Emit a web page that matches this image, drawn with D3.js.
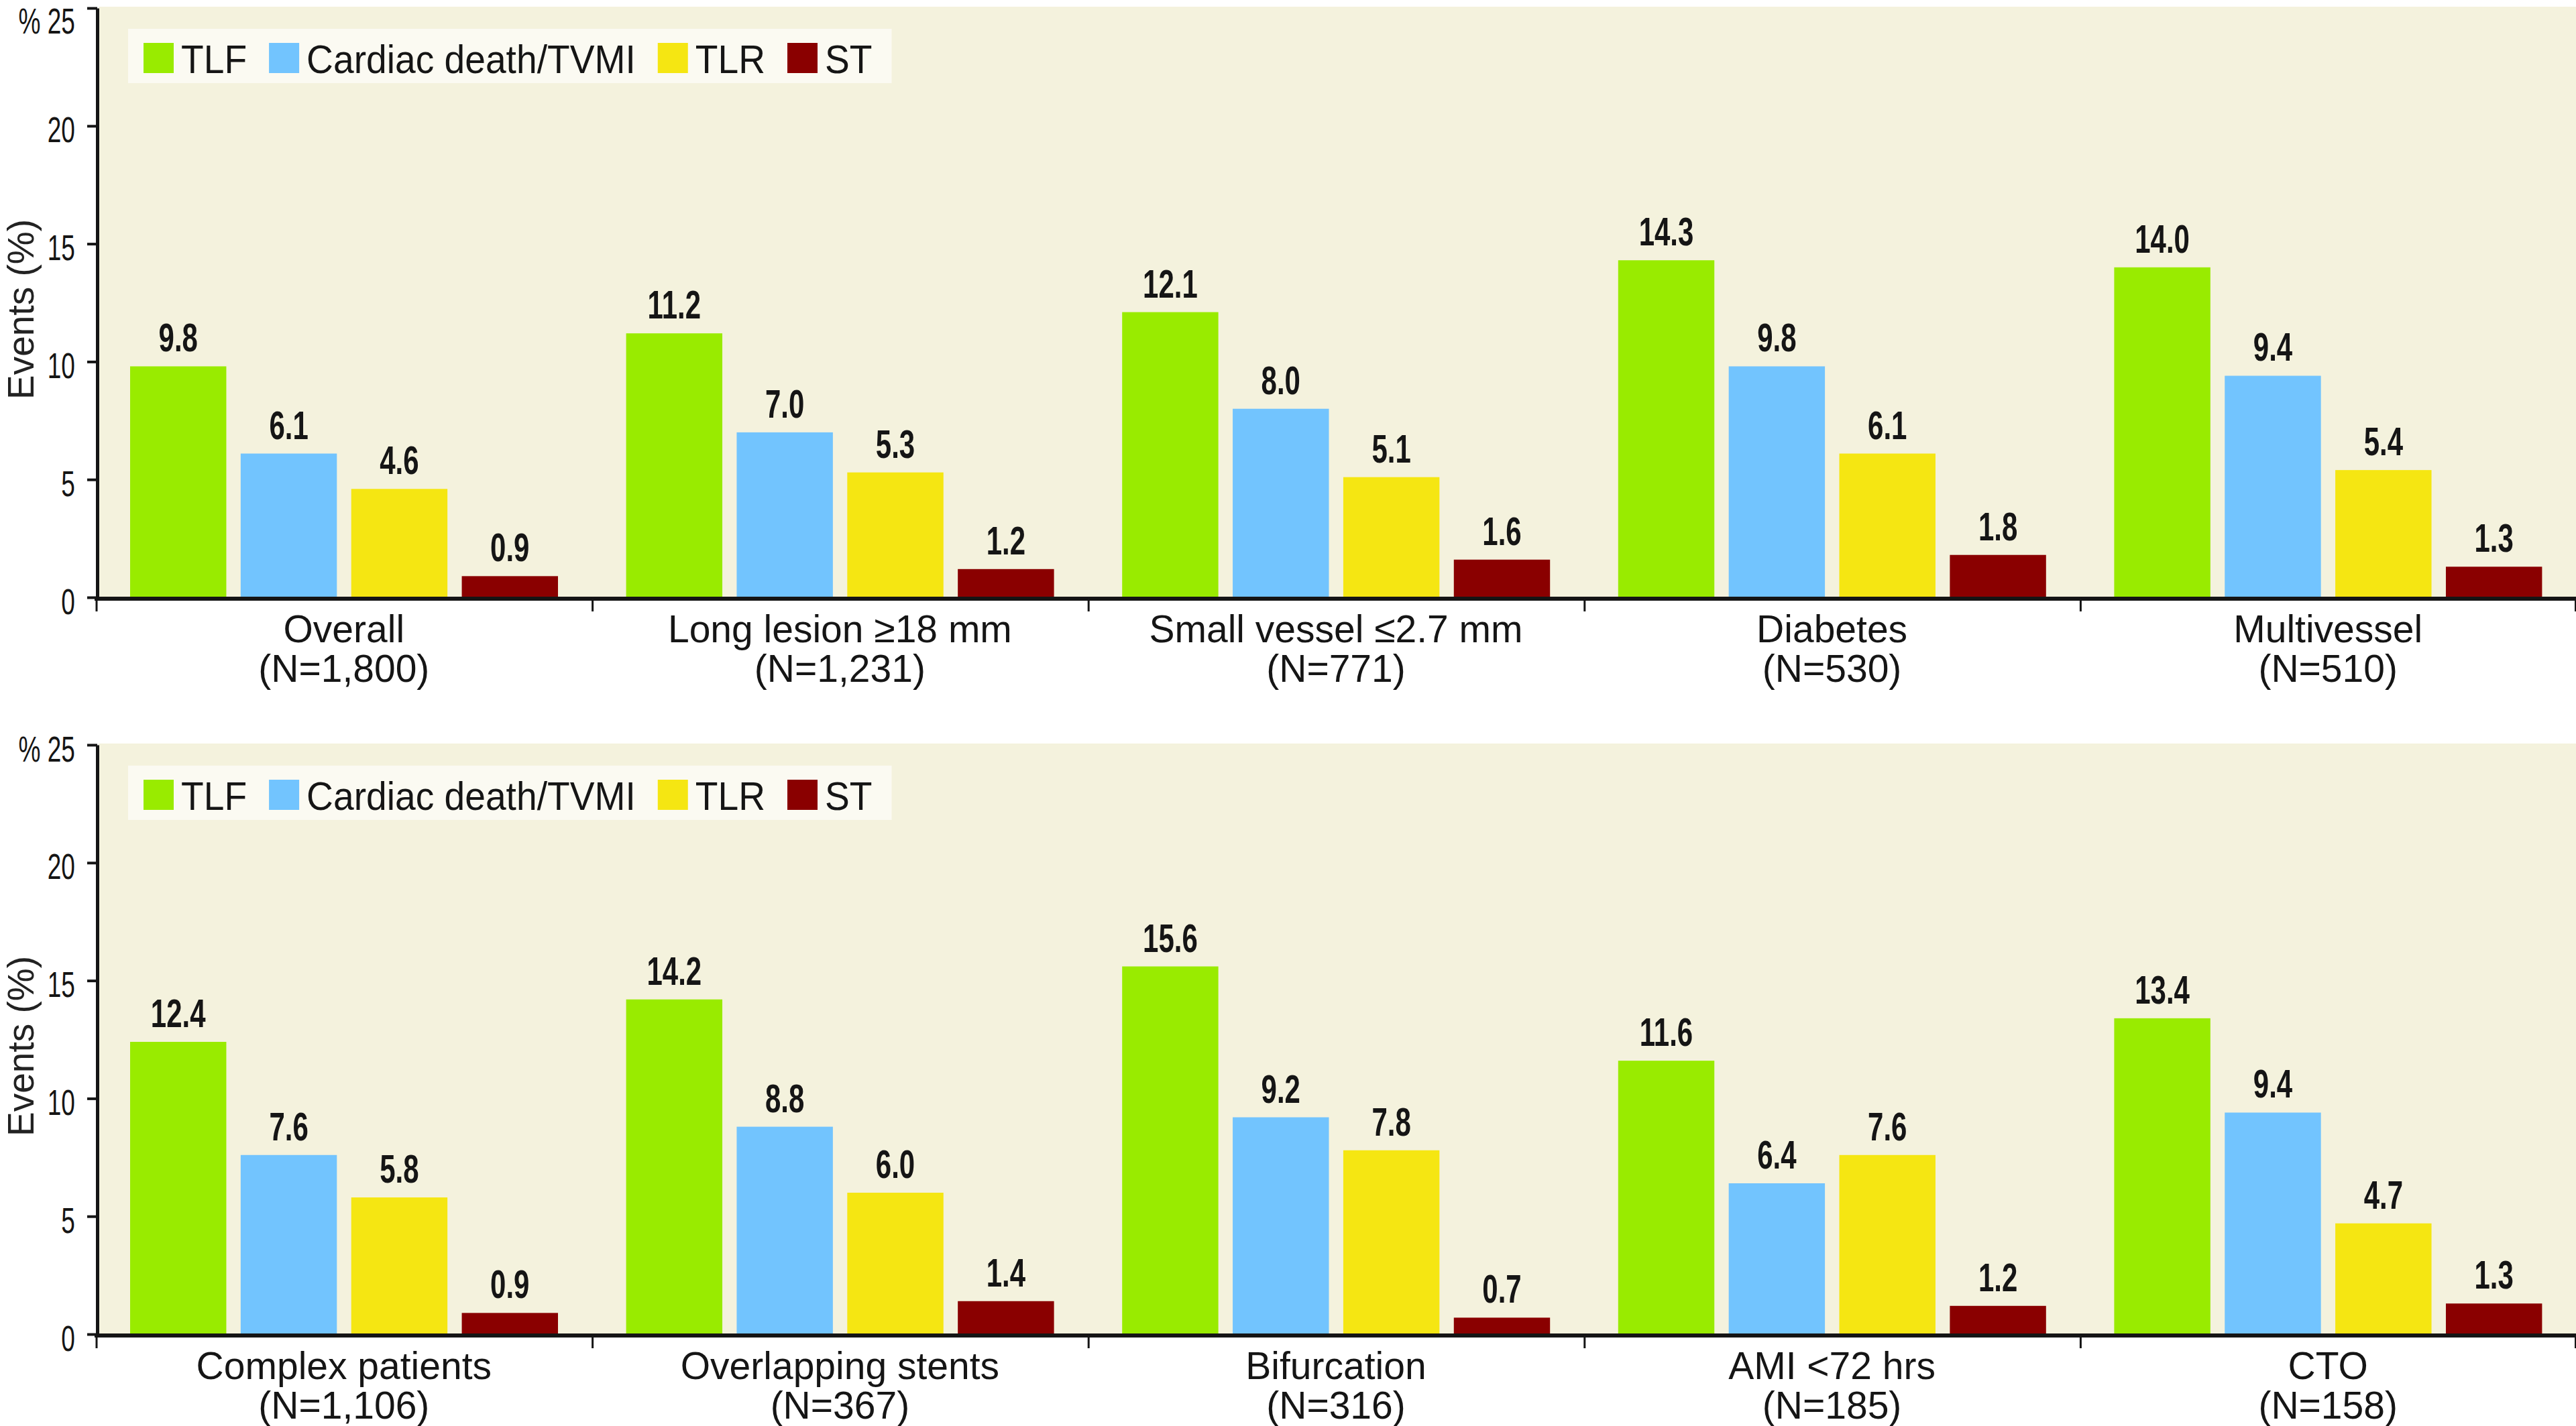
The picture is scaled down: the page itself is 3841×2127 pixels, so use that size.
<!DOCTYPE html>
<html>
<head>
<meta charset="utf-8">
<script src="https://cdn.jsdelivr.net/npm/d3@7"></script>
<style>
  html, body { margin: 0; padding: 0; background: #ffffff; }
  svg { display: block; }
</style>
</head>
<body>
<svg id="chart" width="3841" height="2127"></svg>
<script>
// ---------------- DATA ----------------
const seriesNames = ["TLF", "Cardiac death/TVMI", "TLR", "ST"];
const seriesColors = ["#99EB00", "#72C4FE", "#F5E612", "#8A0000"];
const yTicks = [0, 5, 10, 15, 20, 25];

const topCategories = ["Overall", "Long lesion \u226518 mm", "Small vessel \u22642.7 mm", "Diabetes", "Multivessel"];
const topN = ["(N=1,800)", "(N=1,231)", "(N=771)", "(N=530)", "(N=510)"];
const topTLF = [9.8, 11.2, 12.1, 14.3, 14.0];
const topCardiac = [6.1, 7.0, 8.0, 9.8, 9.4];
const topTLR = [4.6, 5.3, 5.1, 6.1, 5.4];
const topST = [0.9, 1.2, 1.6, 1.8, 1.3];

const bottomCategories = ["Complex patients", "Overlapping stents", "Bifurcation", "AMI <72 hrs", "CTO"];
const bottomN = ["(N=1,106)", "(N=367)", "(N=316)", "(N=185)", "(N=158)"];
const bottomTLF = [12.4, 14.2, 15.6, 11.6, 13.4];
const bottomCardiac = [7.6, 8.8, 9.2, 6.4, 9.4];
const bottomTLR = [5.8, 6.0, 7.8, 7.6, 4.7];
const bottomST = [0.9, 1.4, 0.7, 1.2, 1.3];

// ---------------- LAYOUT ----------------
const W = 3841;
const regular = "'Liberation Sans', Arial, sans-serif";
const ink = "#151515";
const svg = d3.select("#chart");

function drawPanel(offsetY, categories, ns, seriesValues, topLabelShift) {
  const g = svg.append("g").attr("transform", `translate(0,${offsetY})`);
  const axisX = 143;
  const y = d3.scaleLinear().domain([0, 25]).range([891, 12]);
  const x0 = d3.scaleBand().domain(categories).range([axisX, W]).padding(0);
  const x1 = d3.scaleBand().domain(seriesNames).range([51, 689]).paddingInner(0.13).paddingOuter(0);
  const color = d3.scaleOrdinal().domain(seriesNames).range(seriesColors);

  // background
  g.append("rect")
    .attr("x", axisX + 4).attr("y", y(25) - 2)
    .attr("width", W - axisX - 4).attr("height", y(0) - y(25) + 2)
    .attr("fill", "#F4F2DD");

  // legend
  const leg = g.append("g").attr("transform", "translate(191,43)");
  const legBg = leg.append("rect").attr("x", 0).attr("y", 0).attr("height", 81).attr("fill", "#FBFAF2");
  let cx = 23;
  seriesNames.forEach((s, i) => {
    leg.append("rect").attr("x", cx).attr("y", 21).attr("width", 45).attr("height", 45).attr("fill", color(s));
    const t = leg.append("text")
      .attr("transform", `translate(${cx + 56},66) scale(0.92,1)`)
      .attr("font-family", regular).attr("font-size", 60).attr("fill", ink).text(s);
    const w = t.node().getComputedTextLength() * 0.92;
    cx = cx + 56 + w + (i < seriesNames.length - 1 ? 33 : 29);
  });
  legBg.attr("width", cx);

  // bars
  const rows = categories.map((c, ci) => ({
    cat: c,
    vals: seriesNames.map((s, si) => ({ s, v: seriesValues[si][ci] }))
  }));
  const cg = g.selectAll("g.cat").data(rows).join("g")
    .attr("class", "cat")
    .attr("transform", d => `translate(${x0(d.cat)},0)`);
  cg.selectAll("rect").data(d => d.vals).join("rect")
    .attr("x", d => x1(d.s))
    .attr("y", d => y(d.v))
    .attr("width", x1.bandwidth())
    .attr("height", d => y(0) - y(d.v))
    .attr("fill", d => color(d.s));
  cg.selectAll("text.val").data(d => d.vals).join("text")
    .attr("class", "val")
    .attr("transform", d => `translate(${x1(d.s) + x1.bandwidth() / 2},${y(d.v) - 22}) scale(0.7,1)`)
    .attr("text-anchor", "middle")
    .attr("font-family", regular).attr("font-weight", "bold")
    .attr("font-size", 60).attr("fill", ink)
    .text(d => d3.format(".1f")(d.v));

  // y axis
  const yAxis = d3.axisLeft(y).tickValues(yTicks).tickSize(15).tickSizeOuter(0).tickPadding(0)
    .tickFormat(d => d === 25 ? "% 25" : d);
  const ya = g.append("g").attr("transform", `translate(${axisX + 2},0)`).call(yAxis);
  ya.select(".domain").attr("stroke", ink).attr("stroke-width", 5);
  ya.selectAll(".tick line").attr("stroke", ink).attr("stroke-width", 4);
  ya.selectAll(".tick text")
    .attr("x", 0).attr("dy", null)
    .attr("transform", d => `translate(-33,${d === 25 ? 24 + topLabelShift : 24}) scale(0.7,1)`)
    .attr("font-family", regular).attr("font-size", 53).attr("fill", ink);

  // x axis line
  g.append("line").attr("x1", axisX - 2).attr("x2", W).attr("y1", y(0) + 2).attr("y2", y(0) + 2)
    .attr("stroke", ink).attr("stroke-width", 6);
  // boundary ticks
  const bounds = categories.map(c => x0(c)).concat([x0.range()[1] - 1.5]);
  g.selectAll("line.bt").data(bounds).join("line").attr("class", "bt")
    .attr("x1", d => d + 1).attr("x2", d => d + 1)
    .attr("y1", y(0)).attr("y2", y(0) + 21)
    .attr("stroke", ink).attr("stroke-width", 3);

  // category labels
  const lab = g.selectAll("text.cl").data(categories).join("text").attr("class", "cl")
    .attr("text-anchor", "middle")
    .attr("font-family", regular).attr("font-size", 57).attr("fill", ink);
  lab.append("tspan").attr("x", d => x0(d) + x0.bandwidth() / 2).attr("y", y(0) + 67).text(d => d);
  lab.append("tspan").attr("x", d => x0(d) + x0.bandwidth() / 2).attr("y", y(0) + 126)
    .text((d, i) => ns[i]);

  // y title
  g.append("text")
    .attr("transform", `translate(50,${(y(0) + y(25)) / 2 + 10}) rotate(-90)`)
    .attr("text-anchor", "middle")
    .attr("font-family", regular).attr("font-size", 55).attr("fill", "#222")
    .text("Events (%)");
}

drawPanel(0, topCategories, topN, [topTLF, topCardiac, topTLR, topST], 13);
drawPanel(1099, bottomCategories, bottomN, [bottomTLF, bottomCardiac, bottomTLR, bottomST], 0);
</script>
</body>
</html>
